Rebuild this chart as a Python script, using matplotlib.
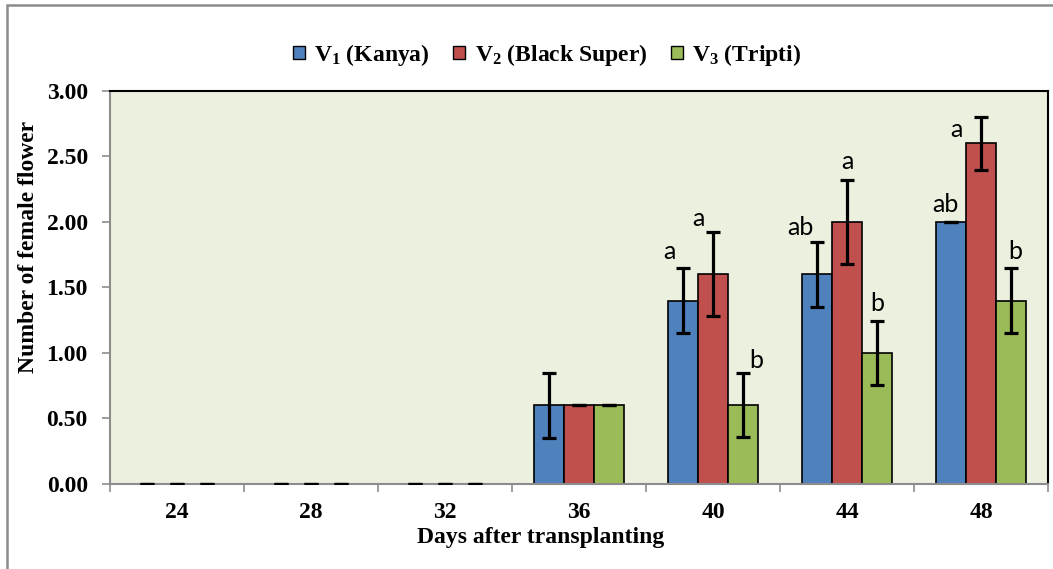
import numpy as np
import matplotlib
matplotlib.use('Agg')
import matplotlib.pyplot as plt
from matplotlib.patches import Rectangle, Patch

# data
days = ['24', '28', '32', '36', '40', '44', '48']
series = ['V$_1$ (Kanya)', 'V$_2$ (Black Super)', 'V$_3$ (Tripti)']
v1 = [0, 0, 0, 0.6, 1.4, 1.6, 2.0]
v2 = [0, 0, 0, 0.6, 1.6, 2.0, 2.6]
v3 = [0, 0, 0, 0.6, 0.6, 1.0, 1.4]
v1_err = [0, 0, 0, 0.25, 0.245, 0.25, 0.0]
v2_err = [0, 0, 0, 0.0, 0.32, 0.32, 0.205]
v3_err = [0, 0, 0, 0.0, 0.245, 0.245, 0.245]
# significance letters: (series index, day index, letter)
letters = [(0, 4, 'a'), (1, 4, 'a'), (2, 4, 'b'),
           (0, 5, 'ab'), (1, 5, 'a'), (2, 5, 'b'),
           (0, 6, 'ab'), (1, 6, 'a'), (2, 6, 'b')]
# label offsets from the error bar top (category units, data units)
letter_offsets = [(-0.105, 0.13), (-0.11, 0.11), (0.10, 0.10),
                  (-0.125, 0.11), (0.0, 0.14), (0.0, 0.13),
                  (-0.04, 0.13), (-0.18, -0.10), (0.03, 0.13)]

colors = ['#4F81BD', '#C0504D', '#9BBB59']

plt.rcParams['mathtext.fontset'] = 'custom'
plt.rcParams['mathtext.rm'] = 'Liberation Serif:bold'
plt.rcParams['mathtext.it'] = 'Liberation Serif:bold'
plt.rcParams['mathtext.bf'] = 'Liberation Serif:bold'

serif = {'family': 'Liberation Serif', 'weight': 'bold'}
fs = 17

fig = plt.figure(figsize=(10.53, 5.69), dpi=100)
ax = fig.add_axes([0.1045, 0.1494, 0.8908, 0.6907])
ax.set_facecolor('#EBF1DE')

x = np.arange(len(days))
w = 0.223
vals = [v1, v2, v3]
errs = [v1_err, v2_err, v3_err]
for i in range(3):
    pos = x + (i - 1) * w
    lw = [1.2 if v > 0 else 0 for v in vals[i]]
    ax.bar(pos, vals[i], w, color=colors[i], edgecolor='black', linewidth=lw, zorder=2)
    ax.errorbar(pos, vals[i], yerr=errs[i], fmt='none', ecolor='black',
                elinewidth=2.3, capsize=5, capthick=2.3, zorder=3)

for (s, d, txt), (dx, dy) in zip(letters, letter_offsets):
    xp = x[d] + (s - 1) * w + dx
    yp = vals[s][d] + errs[s][d] + dy
    ax.text(xp, yp, txt, ha='center', va='center', fontsize=18, family='Lato')

ax.set_xlim(-0.5, len(days) - 0.5)
ax.set_ylim(0, 3.0)
ax.set_xticks(np.arange(len(days) + 1) - 0.5)
ax.set_xticklabels([])
ax.set_xticks(x, minor=True)
ax.set_xticklabels(days, minor=True, fontdict=serif, fontsize=fs)
ax.tick_params(axis='x', which='major', length=6, color='#8c8c8c', width=1.2)
ax.tick_params(axis='x', which='minor', length=0, pad=13)
ax.set_yticks(np.arange(0, 3.01, 0.5))
ax.set_yticklabels(['%.2f' % t for t in np.arange(0, 3.01, 0.5)], fontdict=serif, fontsize=fs)
ax.tick_params(axis='y', length=6, color='#8c8c8c', width=1.2, pad=10)

for side in ['left', 'bottom']:
    ax.spines[side].set_color('#8c8c8c')
    ax.spines[side].set_linewidth(1.5)
for side in ['top', 'right']:
    ax.spines[side].set_color('black')
    ax.spines[side].set_linewidth(1.5)

ax.set_xlabel('Days after transplanting', fontdict=serif, fontsize=fs)
ax.set_ylabel('Number of female flower', fontdict=serif, fontsize=fs)
ax.xaxis.set_label_coords(0.4595, -0.11)
ax.yaxis.set_label_coords(-0.076, 0.603)

handles = [Patch(facecolor=c, edgecolor='black', linewidth=1.0) for c in colors]
fig.legend(handles, series, loc='center', bbox_to_anchor=(547 / 1053, 1 - 55 / 569),
           ncol=3, frameon=False, prop={'family': 'Liberation Serif', 'weight': 'bold', 'size': fs},
           handlelength=0.5, handleheight=0.5, handletextpad=0.4, columnspacing=1.0)

# outer gray frame
fig.patches.append(Rectangle((7 / 1053, -0.1), 1.2, 1.1 - 5 / 569, transform=fig.transFigure,
                             fill=False, edgecolor='#8c8c8c', linewidth=1.8))

fig.savefig('out.png', dpi=100)
